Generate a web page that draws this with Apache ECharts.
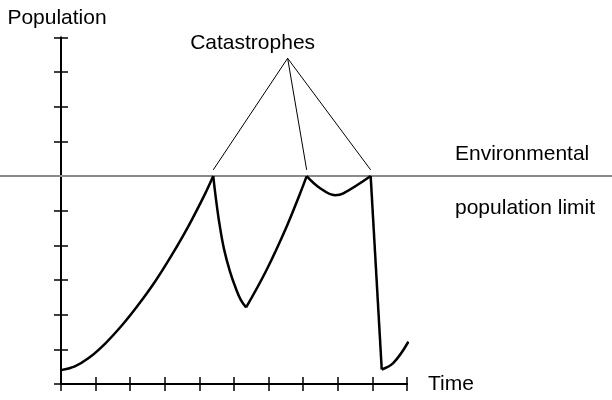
<!DOCTYPE html>
<html>
<head>
<meta charset="utf-8">
<style>
  html, body { margin: 0; padding: 0; background: #fff; }
  #chart { width: 612px; height: 400px; }
</style>
<script src="https://cdn.jsdelivr.net/npm/echarts@6/dist/echarts.min.js"></script>
</head>
<body>
<div id="chart"></div>
<script>
// Population over time: growth towards the environmental limit, interrupted by catastrophes.
const xTicks = [0, 1, 2, 3, 4, 5, 6, 7, 8, 9, 10];
const yTicks = [0, 1, 2, 3, 4, 5, 6, 7, 8, 9, 10];
const populationLimit = 6;

// Curve pieces [time, population]; each joins the next at a sharp corner.
const growth    = [[0, 0.40], [0.40, 0.51], [0.79, 0.74], [1.27, 1.16], [1.75, 1.68], [2.23, 2.28],
                   [2.72, 2.96], [3.20, 3.72], [3.68, 4.55], [4.16, 5.48], [4.40, 6.00]];
const crash     = [[4.40, 6.00], [4.48, 5.33], [4.58, 4.62], [4.71, 3.90], [4.88, 3.26],
                   [5.06, 2.74], [5.20, 2.42], [5.35, 2.21]];
const recovery  = [[5.35, 2.21], [5.94, 3.29], [6.52, 4.54], [6.91, 5.50], [7.10, 6.00]];
const dip       = [[7.10, 6.00], [7.49, 5.65], [7.92, 5.45], [8.16, 5.50], [8.95, 6.00]];
const collapse  = [[8.95, 6.00], [9.27, 0.42]];
const regrowth  = [[9.27, 0.42], [9.60, 0.60], [10.04, 1.22]];

// Catastrophe callout: label anchor and the three peaks it points to.
const calloutAnchor = [6.55, 9.40];
const catastrophePeaks = [[4.40, 6.18], [7.10, 6.18], [8.95, 6.18]];

const FONT = '"Liberation Sans", Helvetica, Arial, sans-serif';
const INK = '#000';

const chart = echarts.init(document.getElementById('chart'), null, { renderer: 'canvas' });

// Each direction gets two identical axes: one with outward ticks, one with inward ticks,
// so every tick crosses the axis line.
function axis(position, inside, extra) {
  const base = {
    type: 'value',
    position: position,
    min: xTicks[0],
    max: xTicks[xTicks.length - 1],
    interval: 1,
    axisLine: { show: true, onZero: false, lineStyle: { color: INK, width: 2 } },
    axisTick: { show: true, inside: inside, length: 7, lineStyle: { color: INK, width: 1.5 } },
    axisLabel: { show: false },
    splitLine: { show: false }
  };
  return Object.assign(base, extra || {});
}

function curve(data) {
  return {
    type: 'line',
    data: data,
    smooth: 0.4,
    showSymbol: false,
    clip: false,
    silent: true,
    lineStyle: { color: INK, width: 2.5 },
    xAxisIndex: 0,
    yAxisIndex: 0,
    z: 3
  };
}

chart.setOption({
  animation: false,
  backgroundColor: '#fff',
  grid: { left: 61, right: 205, top: 37.5, bottom: 16, containLabel: false },
  xAxis: [
    axis('bottom', false, {
      name: 'Time',
      nameLocation: 'end',
      nameGap: 21,
      nameTextStyle: { color: INK, fontFamily: FONT, fontSize: 21, align: 'left', verticalAlign: 'middle', padding: [8, 0, 0, 0] }
    }),
    axis('bottom', true)
  ],
  yAxis: [
    axis('left', false, {
      min: yTicks[0],
      max: yTicks[yTicks.length - 1],
      name: 'Population',
      nameLocation: 'end',
      nameGap: 19,
      nameTextStyle: { color: INK, fontFamily: FONT, fontSize: 21, align: 'center', verticalAlign: 'middle', padding: [0, 8, 0, 0] }
    }),
    axis('left', true, { min: yTicks[0], max: yTicks[yTicks.length - 1] })
  ],
  series: [
    curve(growth),
    curve(crash),
    curve(recovery),
    curve(dip),
    Object.assign(curve(collapse), { smooth: false }),
    curve(regrowth),
    {
      type: 'lines',
      coordinateSystem: 'cartesian2d',
      xAxisIndex: 1,
      yAxisIndex: 1,
      silent: true,
      lineStyle: { color: INK, width: 1, opacity: 1 },
      data: catastrophePeaks.map(p => ({ coords: [calloutAnchor, p] })),
      z: 3
    }
  ]
});

// Reference line and captions placed through the chart's own scales.
const limitY = chart.convertToPixel({ gridIndex: 0 }, [0, populationLimit])[1];
const anchorPx = chart.convertToPixel({ gridIndex: 0 }, calloutAnchor);
const rightEdgePx = chart.convertToPixel({ gridIndex: 0 }, [xTicks[xTicks.length - 1], 0])[0];

chart.setOption({
  graphic: [
    {
      type: 'line',
      z: 2,
      silent: true,
      shape: { x1: 0, y1: limitY, x2: chart.getWidth(), y2: limitY },
      style: { stroke: '#8a8a8a', lineWidth: 2 }
    },
    {
      type: 'text',
      z: 4,
      silent: true,
      x: anchorPx[0] - 35,
      y: anchorPx[1] - 15,
      style: { text: 'Catastrophes', font: '21px ' + FONT, fill: INK, textAlign: 'center', textVerticalAlign: 'middle' }
    },
    {
      type: 'text',
      z: 4,
      silent: true,
      x: rightEdgePx + 48,
      y: limitY - 22,
      style: { text: 'Environmental', font: '21px ' + FONT, fill: INK, textAlign: 'left', textVerticalAlign: 'middle' }
    },
    {
      type: 'text',
      z: 4,
      silent: true,
      x: rightEdgePx + 48,
      y: limitY + 32,
      style: { text: 'population limit', font: '21px ' + FONT, fill: INK, textAlign: 'left', textVerticalAlign: 'middle' }
    }
  ]
});
</script>
</body>
</html>
